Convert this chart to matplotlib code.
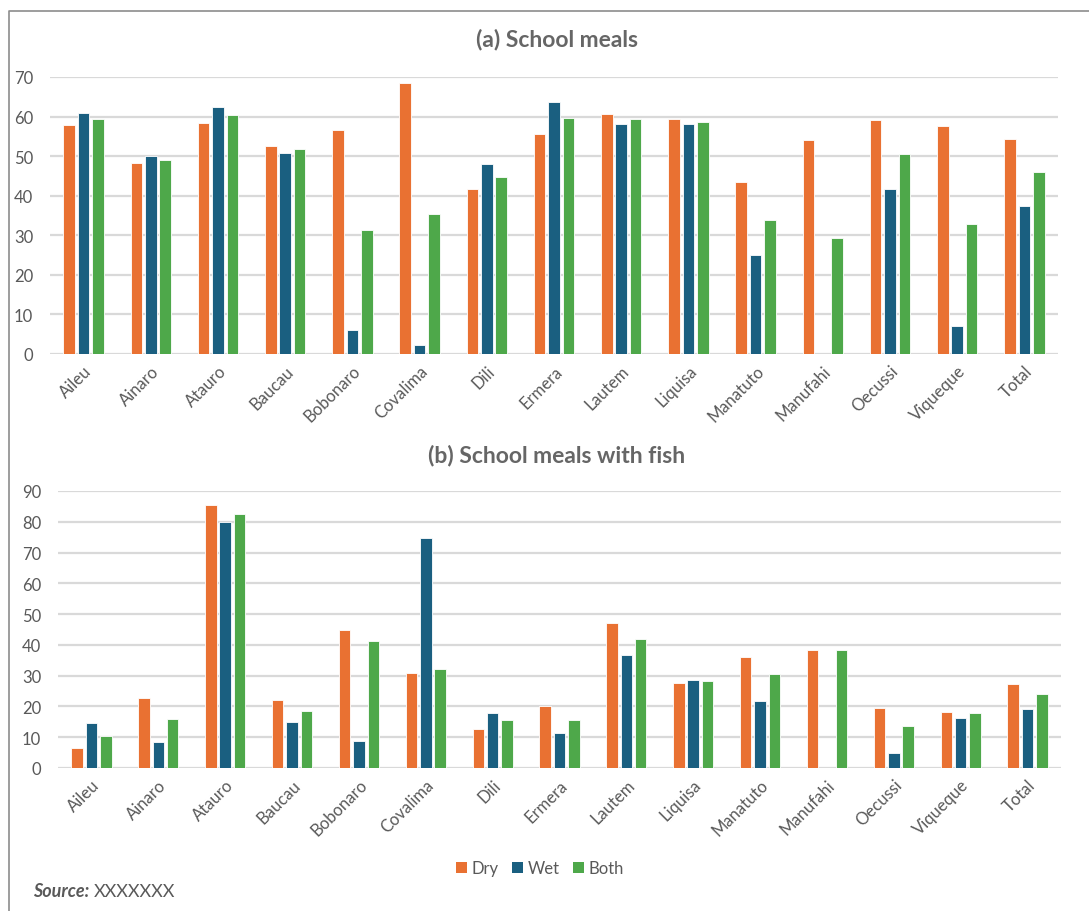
import numpy as np
import matplotlib
matplotlib.use('Agg')
import matplotlib.pyplot as plt
from matplotlib.lines import Line2D
from matplotlib.patches import Patch

plt.rcParams['font.family'] = ['Lato', 'DejaVu Sans']

districts = ['Aileu', 'Ainaro', 'Atauro', 'Baucau', 'Bobonaro', 'Covalima', 'Dili',
             'Ermera', 'Lautem', 'Liquisa', 'Manatuto', 'Manufahi', 'Oecussi',
             'Viqueque', 'Total']

# (a) School meals
meals_dry = [57.9, 48.2, 58.3, 52.6, 56.5, 68.6, 41.8, 55.5, 60.7, 59.3, 43.4, 54.2, 59.2, 57.6, 54.4]
meals_wet = [61.0, 50.1, 62.5, 50.8, 6.0, 2.3, 47.9, 63.7, 58.2, 58.2, 25.0, 0.0, 41.8, 7.1, 37.5]
meals_both = [59.4, 49.1, 60.4, 51.7, 31.3, 35.4, 44.8, 59.7, 59.3, 58.7, 33.9, 29.2, 50.5, 32.8, 46.0]

# (b) School meals with fish
fish_dry = [6.6, 22.9, 85.5, 22.0, 44.7, 30.8, 12.8, 20.1, 47.2, 27.7, 36.2, 38.2, 19.6, 18.3, 27.2]
fish_wet = [14.5, 8.6, 79.9, 15.0, 8.9, 74.6, 17.9, 11.5, 36.6, 28.5, 21.7, 0.0, 5.0, 16.1, 19.1]
fish_both = [10.5, 15.8, 82.6, 18.6, 41.2, 32.3, 15.5, 15.7, 41.8, 28.2, 30.7, 38.2, 13.5, 18.0, 23.9]

series_names = ['Dry', 'Wet', 'Both']
colors = ['#E97132', '#1A5F80', '#4EA84A']

text_gray = '#595959'
title_gray = '#666666'
grid_gray = '#D9D9D9'

W, H = 1089, 912
fig = plt.figure(figsize=(W / 100, H / 100), dpi=100)


def px_axes(left, right, top, bottom):
    return fig.add_axes([left / W, 1 - bottom / H, (right - left) / W, (bottom - top) / H])


def draw_panel(ax, values, ymax, step):
    x = np.arange(len(districts))
    bw = 0.172
    offs = [-0.215, 0.0, 0.215]
    for vals, off, col in zip(values, offs, colors):
        ax.bar(x + off, vals, width=bw, color=col, edgecolor='white', linewidth=0.6, zorder=3)
    ax.set_xlim(-0.5, len(districts) - 0.5)
    ax.set_ylim(0, ymax)
    ax.set_yticks(np.arange(0, ymax + 1, step))
    ax.yaxis.grid(True, color=grid_gray, linewidth=1.6, zorder=0)
    ax.set_axisbelow(True)
    for s in ax.spines.values():
        s.set_visible(False)
    ax.tick_params(axis='both', length=0, colors=text_gray, labelsize=12)
    ax.tick_params(axis='y', pad=12)
    ax.set_xticks(x)
    ax.set_xticklabels(districts, rotation=45, ha='right', rotation_mode='anchor')
    ax.tick_params(axis='x', pad=6)
    ax.axhline(0, color=grid_gray, linewidth=1.8, zorder=1)


ax1 = px_axes(50, 1058, 78, 355)
draw_panel(ax1, [meals_dry, meals_wet, meals_both], 70, 10)

ax2 = px_axes(58, 1061, 492, 769)
draw_panel(ax2, [fish_dry, fish_wet, fish_both], 90, 10)

fig.text(557 / W, 1 - 40 / H, '(a) School meals', ha='center', va='center',
         fontsize=16.5, fontweight='bold', color=title_gray)
fig.text(557 / W, 1 - 456 / H, '(b) School meals with fish', ha='center', va='center',
         fontsize=16.5, fontweight='bold', color=title_gray)

handles = [Patch(facecolor=c, edgecolor='none') for c in colors]
fig.legend(handles, series_names, loc='center', bbox_to_anchor=(540 / W, 1 - 869 / H),
           ncol=3, frameon=False, fontsize=12, labelcolor=text_gray,
           handlelength=0.65, handleheight=0.65, handletextpad=0.3, columnspacing=0.8)

src = fig.text(33 / W, 1 - 892 / H, 'Source:', ha='left', va='center', fontsize=13,
               fontweight='bold', fontstyle='italic', color=text_gray)
renderer = fig.canvas.get_renderer()
bb = src.get_window_extent(renderer=renderer)
fig.text((bb.x1 + 5) / W, 1 - 892 / H, 'XXXXXXX', ha='left', va='center', fontsize=13,
         color=text_gray)

# outer frame (top and left edges visible)
fig.add_artist(Line2D([9 / W, 9 / W, 1.0], [0.0, 1 - 12 / H, 1 - 12 / H],
                      transform=fig.transFigure, color='#8C8C8C', linewidth=1.2))

fig.savefig('out.png', dpi=100)
